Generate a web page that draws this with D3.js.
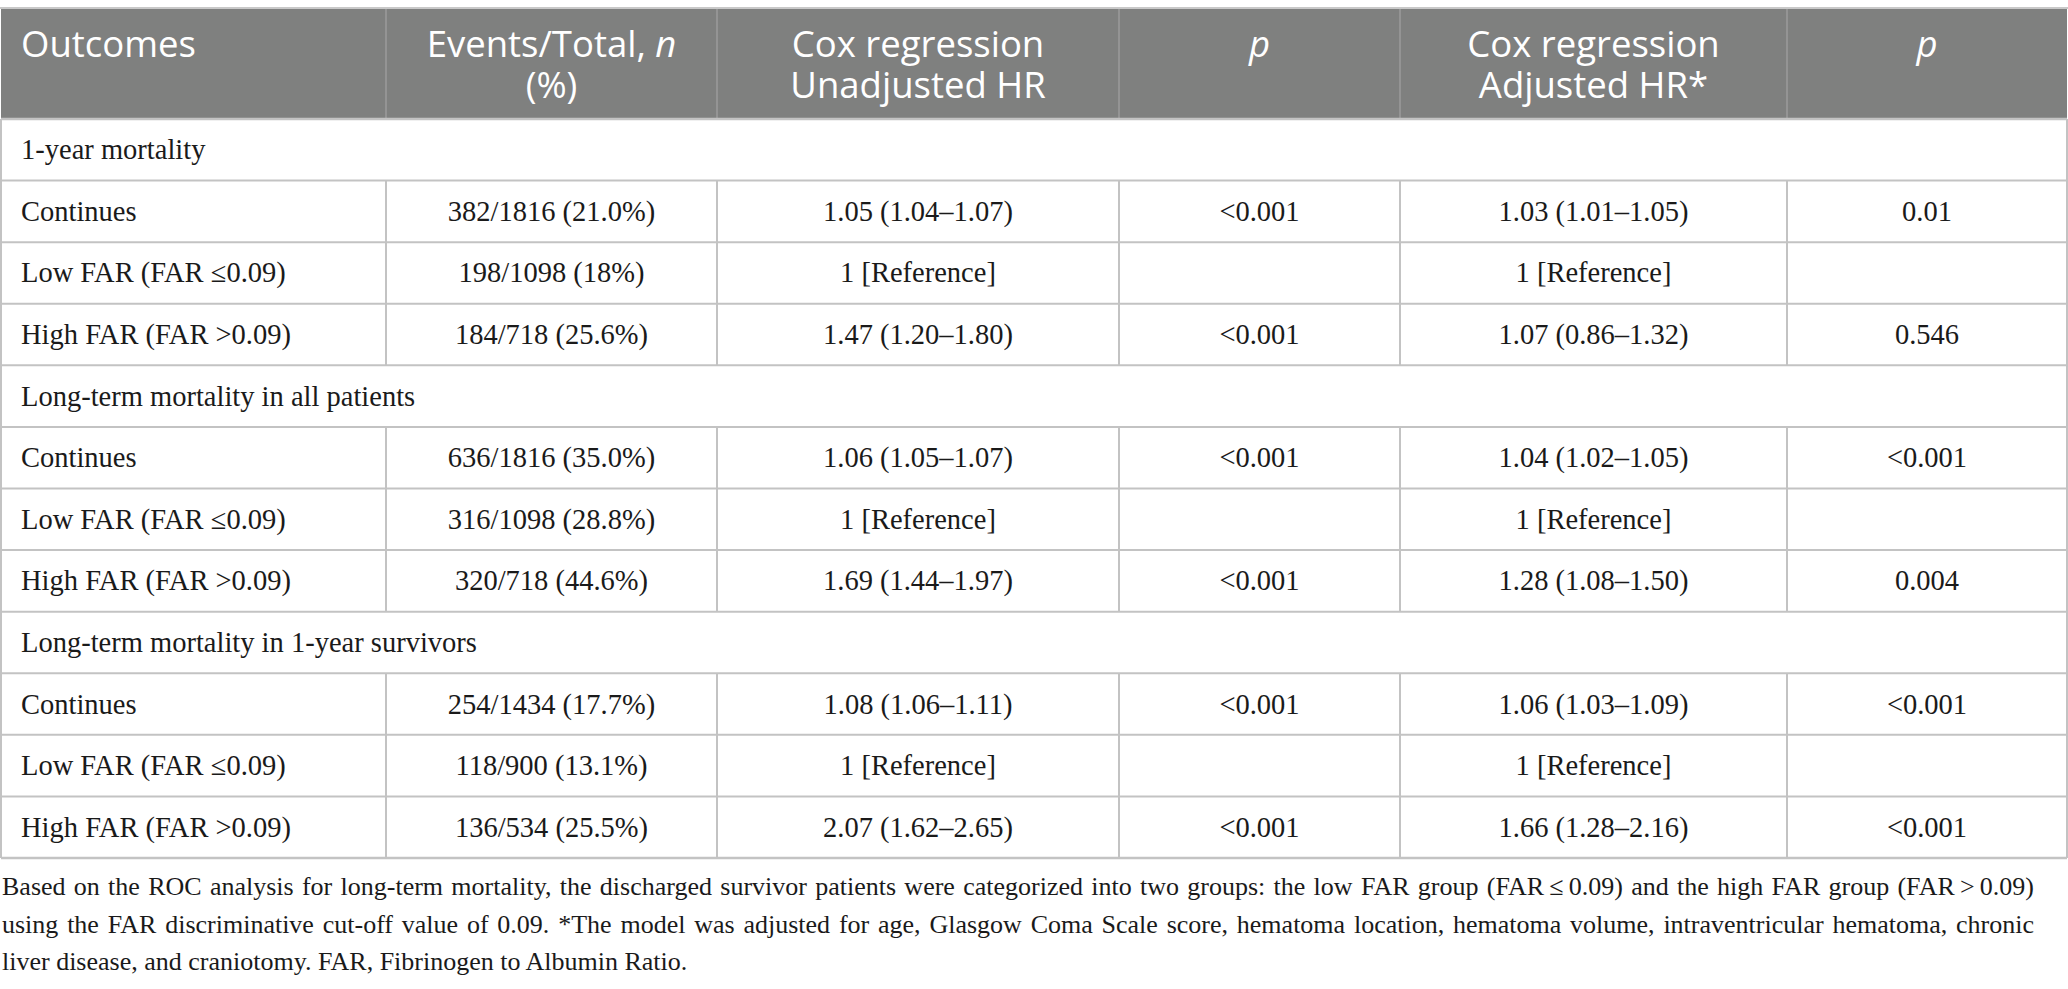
<!DOCTYPE html>
<html>
<head>
<meta charset="utf-8">
<script src="https://cdn.jsdelivr.net/npm/d3@7/dist/d3.min.js"></script>
<style>
  html, body { margin: 0; padding: 0; background: #ffffff; }
  svg { display: block; }
</style>
</head>
<body>
<svg id="chart" width="2068" height="989"></svg>
<script>
// ---------- DATA ----------
const headers = [
  ["Outcomes"],
  ["Events/Total, _n_", "(%)"],
  ["Cox regression", "Unadjusted HR"],
  ["_p_"],
  ["Cox regression", "Adjusted HR*"],
  ["_p_"]
];
const sections = [
  "1-year mortality",
  "Long-term mortality in all patients",
  "Long-term mortality in 1-year survivors"
];
const groupLabels = ["Continues", "Low FAR (FAR \u22640.09)", "High FAR (FAR >0.09)"];
const eventsTotal = [
  ["382/1816 (21.0%)", "198/1098 (18%)", "184/718 (25.6%)"],
  ["636/1816 (35.0%)", "316/1098 (28.8%)", "320/718 (44.6%)"],
  ["254/1434 (17.7%)", "118/900 (13.1%)", "136/534 (25.5%)"]
];
const unadjustedHR = [
  ["1.05 (1.04\u20131.07)", "1 [Reference]", "1.47 (1.20\u20131.80)"],
  ["1.06 (1.05\u20131.07)", "1 [Reference]", "1.69 (1.44\u20131.97)"],
  ["1.08 (1.06\u20131.11)", "1 [Reference]", "2.07 (1.62\u20132.65)"]
];
const unadjustedP = [
  ["<0.001", "", "<0.001"],
  ["<0.001", "", "<0.001"],
  ["<0.001", "", "<0.001"]
];
const adjustedHR = [
  ["1.03 (1.01\u20131.05)", "1 [Reference]", "1.07 (0.86\u20131.32)"],
  ["1.04 (1.02\u20131.05)", "1 [Reference]", "1.28 (1.08\u20131.50)"],
  ["1.06 (1.03\u20131.09)", "1 [Reference]", "1.66 (1.28\u20132.16)"]
];
const adjustedP = [
  ["0.01", "", "0.546"],
  ["<0.001", "", "0.004"],
  ["<0.001", "", "<0.001"]
];
const footnoteLines = [
  "Based on the ROC analysis for long-term mortality, the discharged survivor patients were categorized into two groups: the low FAR group (FAR\u2009\u2264\u20090.09) and the high FAR group (FAR\u2009>\u20090.09)",
  "using the FAR discriminative cut-off value of 0.09. *The model was adjusted for age, Glasgow Coma Scale score, hematoma location, hematoma volume, intraventricular hematoma, chronic",
  "liver disease, and craniotomy. FAR, Fibrinogen to Albumin Ratio."
];

// ---------- BUILD ROWS ----------
const rows = [];
sections.forEach((s, si) => {
  rows.push({type: "section", label: s});
  groupLabels.forEach((g, gi) => {
    rows.push({type: "data", cells: [g, eventsTotal[si][gi], unadjustedHR[si][gi],
      unadjustedP[si][gi], adjustedHR[si][gi], adjustedP[si][gi]]});
  });
});

// ---------- LAYOUT ----------
const W = 2068;
const colEdges = [1, 386, 717, 1119, 1400, 1787, 2067];
const tableTop = 8, headerBottom = 119, tableBottom = 858;
const y = d3.scaleLinear().domain([0, rows.length]).range([headerBottom, tableBottom]);
const lineColor = "#c3c3c3";
const serif = "'Liberation Serif', 'Times New Roman', serif";
const sans = "'Open Sans', 'Noto Sans', sans-serif";

const svg = d3.select("#chart");

// header background
svg.append("rect").attr("x", colEdges[0]).attr("y", tableTop)
  .attr("width", colEdges[6] - colEdges[0]).attr("height", headerBottom - tableTop)
  .attr("fill", "#7f807f");
svg.append("line").attr("x1", 0).attr("x2", W).attr("y1", tableTop).attr("y2", tableTop)
  .attr("stroke", "#c8c8c8").attr("stroke-width", 2);
// header dividers
svg.selectAll(".hdiv").data(colEdges.slice(1, -1)).join("line")
  .attr("x1", d => d).attr("x2", d => d).attr("y1", tableTop + 1).attr("y2", headerBottom)
  .attr("stroke", "#9b9b9b").attr("stroke-width", 1.5);

// header text: one text element per column, lines as tspans
headers.forEach((lines, ci) => {
  const x0 = colEdges[ci], x1 = colEdges[ci + 1];
  const xx = ci === 0 ? x0 + 20 : (x0 + x1) / 2;
  const t = svg.append("text")
    .attr("x", xx).attr("y", 57)
    .attr("text-anchor", ci === 0 ? "start" : "middle")
    .attr("font-family", sans).attr("font-size", 36.5)
    .attr("fill", "#ffffff");
  lines.forEach((ln, li) => {
    const parts = ln.split("_");
    let first = true;
    parts.forEach((p, pi) => {
      if (!p) return;
      const ts = t.append("tspan").attr("font-style", pi % 2 === 1 ? "italic" : "normal").text(p);
      if (first && li > 0) ts.attr("x", xx).attr("dy", 41);
      first = false;
    });
  });
});

// body rows
const rowG = svg.selectAll(".row").data(rows).join("g").attr("class", "row");
rowG.each(function(d, i) {
  const g = d3.select(this);
  const top = y(i), bot = y(i + 1), mid = (top + bot) / 2;
  if (d.type === "section") {
    g.append("text").attr("x", colEdges[0] + 20).attr("y", mid + 9.5)
      .attr("font-family", serif).attr("font-size", 28.5).attr("fill", "#1a1a1a")
      .text(d.label);
  } else {
    d.cells.forEach((c, ci) => {
      const x0 = colEdges[ci], x1 = colEdges[ci + 1];
      g.append("text")
        .attr("x", ci === 0 ? x0 + 20 : (x0 + x1) / 2)
        .attr("y", mid + 9.5)
        .attr("text-anchor", ci === 0 ? "start" : "middle")
        .attr("font-family", serif).attr("font-size", 28.5).attr("fill", "#1a1a1a")
        .text(c);
    });
    colEdges.slice(1, -1).forEach(xe => {
      g.append("line").attr("x1", xe).attr("x2", xe).attr("y1", top).attr("y2", bot)
        .attr("stroke", lineColor).attr("stroke-width", 2);
    });
  }
});
// horizontal lines
svg.selectAll(".hline").data(d3.range(0, rows.length + 1)).join("line")
  .attr("x1", colEdges[0]).attr("x2", colEdges[6])
  .attr("y1", d => y(d)).attr("y2", d => y(d))
  .attr("stroke", lineColor).attr("stroke-width", d => (d === 0 || d === rows.length) ? 2.5 : 2);
// outer verticals
[colEdges[0], colEdges[6]].forEach(xe => {
  svg.append("line").attr("x1", xe).attr("x2", xe).attr("y1", headerBottom).attr("y2", tableBottom)
    .attr("stroke", lineColor).attr("stroke-width", 2);
});

// footnote (justified lines)
const fnRight = 2034;
footnoteLines.forEach((ln, i) => {
  const t = svg.append("text").attr("x", 2).attr("y", 895 + i * 37.5)
    .attr("font-family", serif).attr("font-size", 26).attr("fill", "#1a1a1a")
    .text(ln);
  if (i < footnoteLines.length - 1) {
    const len = t.node().getComputedTextLength();
    const spaces = (ln.match(/ /g) || []).length;
    const extra = (fnRight - 2 - len) / spaces;
    t.attr("word-spacing", extra);
  }
});
</script>
</body>
</html>
